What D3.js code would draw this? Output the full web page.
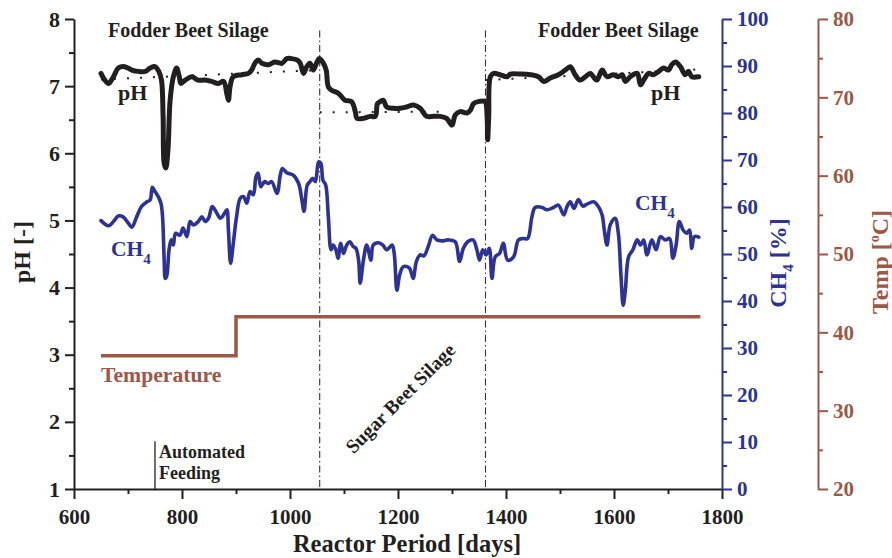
<!DOCTYPE html>
<html>
<head>
<meta charset="utf-8">
<script src="https://cdn.jsdelivr.net/npm/d3@7"></script>
<style>
  html, body { margin: 0; padding: 0; background: #fff; }
  svg { display: block; }
  text { font-family: "Liberation Serif", "Times New Roman", serif; font-weight: bold; }
</style>
</head>
<body>
<svg id="chart" width="892" height="558"></svg>
<script>
// ---------------- DATA ----------------
const phDays = [650,657,664,673,682,694,707,719,732,741,750,757,762,765,767,770,774,778,784,790,795,798,806,818,830,843,855,867,877,883,886,889,895,911,923,929,935,941,948,960,972,985,994,1003,1013,1019,1025,1031,1037,1043,1050,1054,1062,1067,1071,1077,1090,1102,1114,1121,1124,1136,1148,1158,1162,1167,1173,1179,1192,1204,1216,1229,1241,1253,1266,1278,1290,1300,1306,1315,1328,1334,1340,1349,1361,1365,1366,1368,1371,1377,1389,1402,1408,1426,1445,1460,1470,1482,1497,1510,1519,1528,1537,1547,1556,1568,1578,1587,1599,1608,1615,1621,1630,1643,1649,1655,1664,1673,1683,1692,1701,1707,1714,1723,1732,1738,1744,1757];
const phValues = [7.19,7.09,7.04,7.14,7.27,7.29,7.24,7.22,7.22,7.27,7.29,7.22,7.09,6.55,5.85,5.78,6.05,6.79,7.14,7.27,7.14,7.04,7.09,7.14,7.09,7.09,7.07,7.04,7.07,6.89,6.79,6.99,7.14,7.17,7.19,7.24,7.34,7.39,7.34,7.32,7.36,7.34,7.41,7.41,7.39,7.34,7.19,7.29,7.34,7.24,7.36,7.41,7.34,7.24,6.99,6.94,6.89,6.79,6.77,6.62,6.52,6.52,6.55,6.55,6.74,6.77,6.79,6.69,6.67,6.67,6.69,6.72,6.67,6.55,6.55,6.55,6.52,6.42,6.57,6.62,6.60,6.64,6.74,6.77,6.77,6.55,6.20,6.55,7.14,7.19,7.17,7.14,7.18,7.18,7.17,7.14,7.07,7.12,7.17,7.24,7.29,7.17,7.09,7.14,7.19,7.09,7.24,7.14,7.17,7.14,7.17,7.07,7.14,7.19,7.02,7.09,7.19,7.17,7.22,7.27,7.24,7.32,7.36,7.29,7.17,7.22,7.14,7.14];

const ch4Days = [650,664,673,682,691,701,707,716,725,735,741,745,750,756,761,764,767,769,772,776,780,784,788,796,802,809,815,821,830,837,843,849,856,863,871,877,883,886,890,895,901,908,914,920,926,932,937,941,946,953,960,966,976,982,986,994,1006,1016,1022,1026,1032,1037,1042,1047,1053,1057,1061,1066,1071,1076,1080,1085,1089,1094,1099,1105,1111,1117,1122,1127,1130,1136,1142,1150,1154,1164,1172,1179,1189,1193,1198,1203,1210,1221,1228,1234,1241,1248,1256,1264,1272,1281,1293,1306,1314,1321,1329,1339,1346,1351,1357,1363,1369,1374,1380,1388,1395,1403,1414,1423,1432,1440,1448,1454,1467,1476,1488,1497,1507,1513,1519,1526,1534,1542,1550,1562,1571,1578,1582,1587,1593,1602,1608,1613,1617,1621,1627,1635,1643,1649,1655,1661,1670,1678,1686,1695,1703,1709,1715,1721,1728,1735,1740,1744,1749,1757];
const ch4Values = [57.1,56.0,56.9,58.1,57.9,56.5,55.7,57.9,60.1,61.1,61.5,64.2,63.3,62.2,60.8,57.9,48.7,44.8,45.5,50.9,53.0,51.9,54.4,54.0,55.5,53.7,56.9,56.2,56.9,57.9,56.9,57.6,60.1,59.0,57.6,58.3,59.4,55.1,48.0,52.3,57.9,61.9,62.2,60.8,63.3,62.6,66.4,67.2,64.3,65.4,65.0,65.4,62.9,66.8,68.2,67.3,66.8,65.0,61.5,59.1,64.7,65.4,66.1,65.4,69.6,69.3,65.7,64.7,57.9,50.9,51.9,50.9,49.1,52.3,50.1,51.9,52.6,51.6,51.2,48.7,43.8,48.7,51.9,48.7,51.9,52.4,51.9,50.9,51.9,50.1,42.3,45.5,47.3,47.0,44.8,48.4,49.8,49.6,51.6,54.0,53.0,52.8,53.0,52.6,48.4,51.2,52.6,53.0,50.9,48.7,50.9,49.8,51.2,44.8,49.4,50.1,52.3,48.7,49.4,53.0,53.3,53.3,57.9,59.9,59.9,59.4,59.9,60.4,58.3,60.1,61.1,59.7,61.6,60.2,60.6,61.1,60.1,58.3,55.1,51.9,56.2,57.6,54.4,45.2,39.1,42.3,49.4,50.9,53.0,51.9,53.0,49.8,53.0,50.9,53.7,53.0,53.3,49.1,51.9,56.9,55.1,54.4,55.1,51.2,53.7,53.6];

const tempDays = [650, 900, 900, 1760];
const tempValues = [37, 37, 42, 42];

// dotted pH reference trends: [startDay, endDay] and [startPH, endPH]
const refDays = [[650, 1055], [1055, 1295], [1362, 1760]];
const refPH = [[7.10, 7.24], [6.61, 6.62], [7.09, 7.25]];

const dividerDays = [1055, 1362];
const feedingDay = 750;

const xTicks = [600, 800, 1000, 1200, 1400, 1600, 1800];
const xMinor = [700, 900, 1100, 1300, 1500, 1700];
const phTicks = [1, 2, 3, 4, 5, 6, 7, 8];
const phMinor = [1.5, 2.5, 3.5, 4.5, 5.5, 6.5, 7.5];
const ch4Ticks = [0, 10, 20, 30, 40, 50, 60, 70, 80, 90, 100];
const ch4Minor = [5, 15, 25, 35, 45, 55, 65, 75, 85, 95];
const tempTicks = [20, 30, 40, 50, 60, 70, 80];
const tempMinor = [25, 35, 45, 55, 65, 75];

// ---------------- STYLE ----------------
const BLACK = "#231f20", BLUE = "#2d3393", BROWN = "#9b5846";
const L = 74, R = 722, T = 19, B = 489;
const TEMP_AX = 818;

const svg = d3.select("#chart");
const x = d3.scaleLinear().domain([600, 1800]).range([L, R]);
const yPH = d3.scaleLinear().domain([1, 8]).range([B, T]);
const yCH4 = d3.scaleLinear().domain([0, 100]).range([B, T]);
const yT = d3.scaleLinear().domain([20, 80]).range([B, T]);

function styleAxis(g, color, size) {
  g.selectAll(".domain").attr("stroke", color).attr("stroke-width", 2);
  g.selectAll(".tick line").attr("stroke", color).attr("stroke-width", 2);
  g.selectAll(".tick text").attr("fill", color).style("font-size", size + "px")
    .style("font-family", '"Liberation Serif","Times New Roman",serif').style("font-weight", "bold");
}
function minor(g, color) {
  g.select(".domain").remove();
  g.selectAll(".tick line").attr("stroke", color).attr("stroke-width", 2);
}

// Vertical divider lines (dash-dot)
svg.selectAll(".divider").data(dividerDays).enter().append("line")
  .attr("x1", d => x(d)).attr("x2", d => x(d))
  .attr("y1", yPH(7.83)).attr("y2", yPH(1))
  .attr("stroke", "#333").attr("stroke-width", 1.1)
  .attr("stroke-dasharray", "7,3,1.5,3");

// Automated feeding marker
svg.append("line").attr("x1", x(feedingDay)).attr("x2", x(feedingDay))
  .attr("y1", yPH(1.71)).attr("y2", yPH(1))
  .attr("stroke", BLACK).attr("stroke-width", 1.3);

// Temperature step line
const tempData = tempDays.map((d, i) => [d, tempValues[i]]);
svg.append("path").datum(tempData)
  .attr("d", d3.line().x(d => x(d[0])).y(d => yT(d[1])))
  .attr("fill", "none").attr("stroke", BROWN).attr("stroke-width", 3.5);

// Dotted pH reference lines
refDays.forEach((rd, i) => {
  svg.append("line")
    .attr("x1", x(rd[0])).attr("x2", x(rd[1]))
    .attr("y1", yPH(refPH[i][0])).attr("y2", yPH(refPH[i][1]))
    .attr("stroke", BLACK).attr("stroke-width", 2)
    .attr("stroke-dasharray", "2,11");
});

// CH4 line
const ch4Data = ch4Days.map((d, i) => [d, ch4Values[i]]);
svg.append("path").datum(ch4Data)
  .attr("d", d3.line().x(d => x(d[0])).y(d => yCH4(d[1])).curve(d3.curveCatmullRom.alpha(0.5)))
  .attr("fill", "none").attr("stroke", BLUE).attr("stroke-width", 3.6)
  .attr("stroke-linejoin", "round").attr("stroke-linecap", "round");

// pH line
const phData = phDays.map((d, i) => [d, phValues[i]]);
svg.append("path").datum(phData)
  .attr("d", d3.line().x(d => x(d[0])).y(d => yPH(d[1])).curve(d3.curveCatmullRom.alpha(0.5)))
  .attr("fill", "none").attr("stroke", BLACK).attr("stroke-width", 5)
  .attr("stroke-linejoin", "round").attr("stroke-linecap", "round");

// Axes
const gxm = svg.append("g").attr("transform", `translate(0,${B})`)
  .call(d3.axisBottom(x).tickValues(xMinor).tickSize(5).tickFormat(""));
minor(gxm, BLACK);
const gx = svg.append("g").attr("transform", `translate(0,${B})`)
  .call(d3.axisBottom(x).tickValues(xTicks).tickSize(10).tickSizeOuter(0).tickPadding(10).tickFormat(d3.format("d")));
styleAxis(gx, BLACK, 21);

const gym = svg.append("g").attr("transform", `translate(${L},0)`)
  .call(d3.axisLeft(yPH).tickValues(phMinor).tickSize(5).tickFormat(""));
minor(gym, BLACK);
const gy = svg.append("g").attr("transform", `translate(${L},0)`)
  .call(d3.axisLeft(yPH).tickValues(phTicks).tickSize(9).tickSizeOuter(0).tickPadding(5).tickFormat(d3.format("d")));
styleAxis(gy, BLACK, 22);

const gcm = svg.append("g").attr("transform", `translate(${R},0)`)
  .call(d3.axisRight(yCH4).tickValues(ch4Minor).tickSize(5).tickFormat(""));
minor(gcm, BLUE);
const gc = svg.append("g").attr("transform", `translate(${R},0)`)
  .call(d3.axisRight(yCH4).tickValues(ch4Ticks).tickSize(10).tickSizeOuter(0).tickPadding(5).tickFormat(d3.format("d")));
styleAxis(gc, BLUE, 21);

const gtm = svg.append("g").attr("transform", `translate(${TEMP_AX},0)`)
  .call(d3.axisRight(yT).tickValues(tempMinor).tickSize(5).tickFormat(""));
minor(gtm, BROWN);
const gt = svg.append("g").attr("transform", `translate(${TEMP_AX},0)`)
  .call(d3.axisRight(yT).tickValues(tempTicks).tickSize(10).tickSizeOuter(0).tickPadding(5).tickFormat(d3.format("d")));
styleAxis(gt, BROWN, 21);

// Axis titles
svg.append("text").attr("x", 407).attr("y", 552).attr("text-anchor", "middle")
  .attr("fill", BLACK).style("font-size", "24.5px").text("Reactor Period [days]");

svg.append("text").attr("transform", "translate(30,252) rotate(-90)").attr("text-anchor", "middle")
  .attr("fill", BLACK).style("font-size", "24px").text("pH [-]");

const ch4Title = svg.append("text").attr("transform", "translate(786,263) rotate(-90)").attr("text-anchor", "middle")
  .attr("fill", BLUE).style("font-size", "24px");
ch4Title.append("tspan").text("CH");
ch4Title.append("tspan").attr("dy", 7).style("font-size", "15px").text("4");
ch4Title.append("tspan").attr("dy", -7).text(" [%]");

const tTitle = svg.append("text").attr("transform", "translate(888,262) rotate(-90)").attr("text-anchor", "middle")
  .attr("fill", BROWN).style("font-size", "24px");
tTitle.append("tspan").text("Temp [");
tTitle.append("tspan").attr("dy", -9).style("font-size", "14px").text("o");
tTitle.append("tspan").attr("dy", 9).text("C]");

// Annotations
svg.append("text").attr("x", 108).attr("y", 37).attr("fill", BLACK).style("font-size", "20px").text("Fodder Beet Silage");
svg.append("text").attr("x", 538).attr("y", 37).attr("fill", BLACK).style("font-size", "20px").text("Fodder Beet Silage");
svg.append("text").attr("x", 118).attr("y", 100).attr("fill", BLACK).style("font-size", "22px").text("pH");
svg.append("text").attr("x", 651).attr("y", 100).attr("fill", BLACK).style("font-size", "22px").text("pH");

function ch4Label(px, py) {
  const t = svg.append("text").attr("x", px).attr("y", py).attr("fill", BLUE).style("font-size", "21.5px");
  t.append("tspan").text("CH");
  t.append("tspan").attr("dy", 8).style("font-size", "15px").text("4");
}
ch4Label(111, 256);
ch4Label(635, 210);

svg.append("text").attr("x", 101).attr("y", 382).attr("fill", BROWN).style("font-size", "21.7px").text("Temperature");
svg.append("text").attr("x", 159).attr("y", 458).attr("fill", BLACK).style("font-size", "18px").text("Automated");
svg.append("text").attr("x", 159).attr("y", 479).attr("fill", BLACK).style("font-size", "18px").text("Feeding");
svg.append("text").attr("transform", "translate(405,403) rotate(-45)").attr("text-anchor", "middle")
  .attr("fill", BLACK).style("font-size", "19.5px").text("Sugar Beet Silage");
</script>
</body>
</html>
